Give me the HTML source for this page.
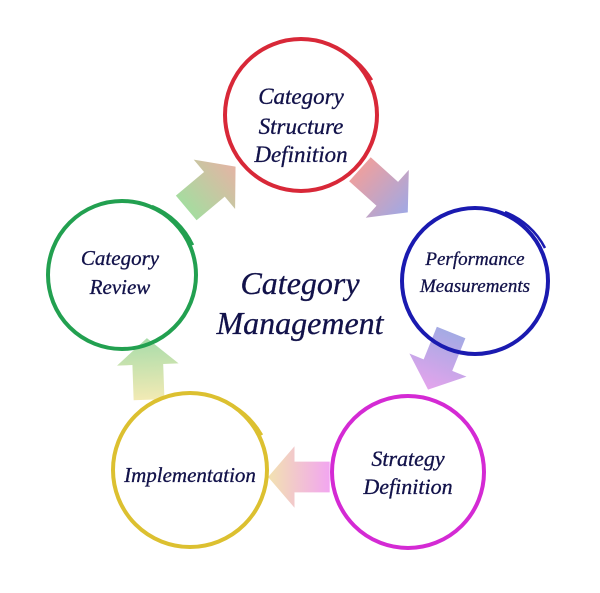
<!DOCTYPE html>
<html><head><meta charset="utf-8"><style>
html,body{margin:0;padding:0;background:#fff;}
svg{display:block}
text{font-family:"Liberation Serif",serif;font-style:italic;fill:#12124a;text-anchor:middle;stroke:#12124a;stroke-width:0.3}
</style></head><body>
<svg width="600" height="593" viewBox="0 0 600 593">
<defs>
<linearGradient id="g1"><stop offset="0" stop-color="#a6dca0"/><stop offset="1" stop-color="#e4b4a4"/></linearGradient>
<linearGradient id="g2"><stop offset="0" stop-color="#eca0a0"/><stop offset="1" stop-color="#a0a8e4"/></linearGradient>
<linearGradient id="g3"><stop offset="0" stop-color="#a4aae4"/><stop offset="1" stop-color="#e4a4ec"/></linearGradient>
<linearGradient id="g4"><stop offset="0" stop-color="#f2a6f0"/><stop offset="1" stop-color="#f2e2b0"/></linearGradient>
<linearGradient id="g5"><stop offset="0" stop-color="#f2eab4"/><stop offset="1" stop-color="#a8dcaa"/></linearGradient>
<polygon id="ar" points="-27,-14 5,-14 5,-28 29,0 5,28 5,14 -27,14"/>
</defs>
<use href="#ar" fill="url(#g1)" transform="translate(210,188) rotate(-40) scale(1.15)"/>
<use href="#ar" fill="url(#g2)" transform="translate(383,190) rotate(42) scale(1.15)"/>
<use href="#ar" fill="url(#g3)" transform="translate(440,360) rotate(112) scale(1.1)"/>
<use href="#ar" fill="url(#g4)" transform="translate(300,477) rotate(180) scale(1.1)"/>
<use href="#ar" fill="url(#g5)" transform="translate(148,370) rotate(-92) scale(1.1)"/>

<g fill="none" stroke-width="4">
<circle cx="301" cy="115" r="76" stroke="#d82838"/>
<path d="M335,48 A78,78 0 0 1 372,80" stroke="#d82838" stroke-width="2.5"/>
<circle cx="475" cy="281" r="73" stroke="#1a1ab0"/>
<path d="M505,212 A76,76 0 0 1 545,248" stroke="#1a1ab0" stroke-width="2.5"/>
<circle cx="408" cy="472" r="76" stroke="#d42ad4"/>
<path d="M440,403 A79,79 0 0 1 478,440" stroke="#d42ad4" stroke-width="2.5"/>
<circle cx="190" cy="470" r="77" stroke="#dcc030"/>
<path d="M222,400 A80,80 0 0 1 262,435" stroke="#dcc030" stroke-width="2.5"/>
<circle cx="122" cy="275" r="74" stroke="#22a050"/>
<path d="M152,206 A77,77 0 0 1 193,245" stroke="#22a050" stroke-width="2.5"/>
</g>

<g font-size="23">
<text x="301" y="104">Category</text>
<text x="301" y="134">Structure</text>
<text x="301" y="162">Definition</text>
<text x="475" y="265" font-size="19">Performance</text>
<text x="475" y="292" font-size="19">Measurements</text>
<text x="408" y="466" font-size="22">Strategy</text>
<text x="408" y="494" font-size="22">Definition</text>
<text x="190" y="482" font-size="21">Implementation</text>
<text x="120" y="265" font-size="21">Category</text>
<text x="120" y="294" font-size="21">Review</text>
</g>
<text x="300" y="294" font-size="32">Category</text>
<text x="300" y="334" font-size="32">Management</text>
</svg>
</body></html>
